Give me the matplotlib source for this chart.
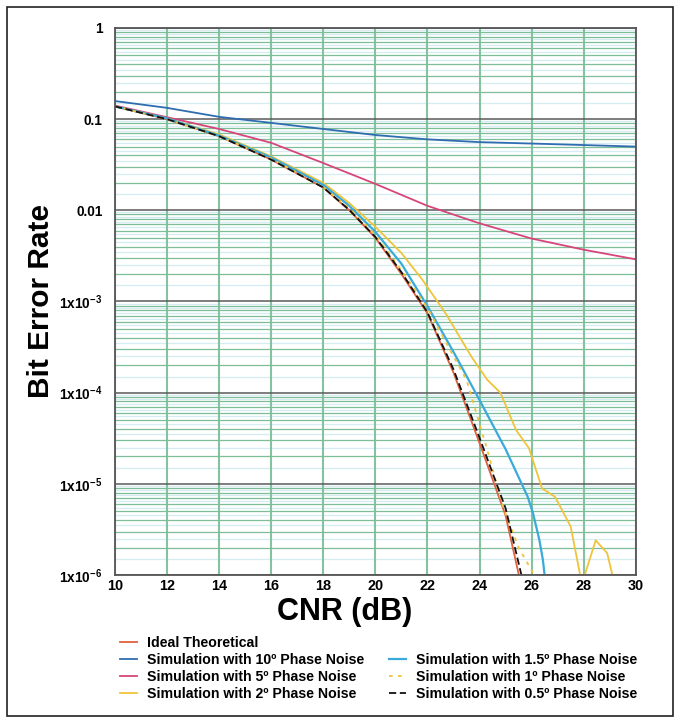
import numpy as np
import matplotlib
matplotlib.use("Agg")
import matplotlib.pyplot as plt
from matplotlib.lines import Line2D
from matplotlib.patches import Rectangle
from matplotlib.ticker import LogLocator, NullFormatter, FixedLocator

plt.rcParams['font.family'] = ['Liberation Sans', 'DejaVu Sans']
plt.rcParams['font.weight'] = 'bold'
plt.rcParams['mathtext.fontset'] = 'custom'
plt.rcParams['mathtext.rm'] = 'Liberation Sans:bold'
plt.rcParams['mathtext.it'] = 'Liberation Sans:bold'
plt.rcParams['mathtext.bf'] = 'Liberation Sans:bold'

# data (CNR in dB, BER)
ideal_x = [10, 12, 14, 16, 18, 19, 20, 21, 22, 23, 24, 25, 25.55]
ideal_y = [0.138, 0.1, 0.065, 0.036, 0.0178, 0.01, 0.005, 0.002, 7.4e-4, 1.66e-4, 2.8e-5, 4.5e-6, 8.9e-7]

pn10_x = [10, 12, 14, 16, 18, 20, 22, 24, 26, 28, 30]
pn10_y = [0.158, 0.133, 0.106, 0.091, 0.078, 0.067, 0.060, 0.056, 0.054, 0.052, 0.050]

pn5_x = [10, 12, 14, 16, 18, 20, 22, 24, 26, 28, 30]
pn5_y = [0.141, 0.105, 0.078, 0.055, 0.033, 0.0195, 0.0112, 0.0072, 0.0049, 0.0037, 0.0029]

pn2_x = [10, 12, 14, 16, 18, 19, 20, 21, 21.8, 22.7, 23.7, 24.3, 24.8, 25.4, 25.9,
         26.4, 26.9, 27.5, 27.85, 27.95, 28.04, 28.46, 28.9, 29.1, 29.2]
pn2_y = [0.138, 0.102, 0.068, 0.039, 0.020, 0.012, 0.0066, 0.0034, 0.00174, 7.4e-4,
         2.45e-4, 1.38e-4, 1.0e-4, 3.9e-5, 2.45e-5, 8.9e-6, 7.2e-6, 3.4e-6, 1.05e-6,
         5e-7, 1.0e-6, 2.4e-6, 1.74e-6, 1.0e-6, 5e-7]

pn15_x = [10, 12, 14, 16, 18, 19, 20, 21, 22, 23, 24, 25, 25.85, 26.05, 26.3, 26.43, 26.52]
pn15_y = [0.138, 0.102, 0.066, 0.038, 0.019, 0.0112, 0.0058, 0.0026, 8.9e-4, 2.8e-4,
          8.3e-5, 2.4e-5, 7.2e-6, 4.8e-6, 2.4e-6, 1.48e-6, 8.9e-7]

pn1_x = [10, 12, 14, 16, 18, 19, 20, 21, 22, 23, 23.5, 24.27, 24.9, 25.5, 26.2]
pn1_y = [0.138, 0.1, 0.065, 0.037, 0.018, 0.0105, 0.0054, 0.0022, 8.5e-4, 2.5e-4,
         1.38e-4, 2.5e-5, 5.6e-6, 2.0e-6, 8.9e-7]

pn05_x = [10, 12, 14, 16, 18, 19, 20, 21, 22, 23, 24, 25, 25.65]
pn05_y = [0.138, 0.1, 0.065, 0.036, 0.0178, 0.0101, 0.0051, 0.0021, 7.6e-4, 1.8e-4, 3.2e-5, 5.4e-6, 8.9e-7]

x_ticks = [10, 12, 14, 16, 18, 20, 22, 24, 26, 28, 30]
y_ticks = [1, 0.1, 0.01, 1e-3, 1e-4, 1e-5, 1e-6]
y_labels = ['1', '0.1', '0.01', '1x10$^{-3}$', '1x10$^{-4}$', '1x10$^{-5}$', '1x10$^{-6}$']

fig = plt.figure(figsize=(6.8, 7.23), dpi=100)
ax = fig.add_axes([0.169, 0.2047, 0.766, 0.7566])
ax.set_yscale('log')
ax.set_xlim(10, 30)
ax.set_ylim(1e-6, 1)

# grid
for dec in [1e-6, 1e-5, 1e-4, 1e-3, 1e-2, 1e-1]:
    for s in [1.5, 2.5, 3.5, 4.5, 5.5, 6.5, 7.5, 8.5, 9.5]:
        ax.axhline(dec * s, color='#d6ecf3', lw=0.9, zorder=0)
ax.yaxis.set_minor_locator(LogLocator(base=10, subs=range(2, 10), numticks=20))
ax.yaxis.set_minor_formatter(NullFormatter())
ax.grid(which='minor', axis='y', color='#7dbd97', lw=0.9, zorder=1)
ax.grid(which='major', axis='y', color='#5a5a5a', lw=1.1, zorder=1)
ax.xaxis.set_major_locator(FixedLocator(x_ticks))
ax.grid(which='major', axis='x', color='#85c3a0', lw=1.5, zorder=1)
ax.set_axisbelow(True)

ax.plot(ideal_x, ideal_y, color='#e0603f', lw=1.3, label='Ideal Theoretical')
ax.plot(pn10_x, pn10_y, color='#2f6db0', lw=1.3, label='Simulation with 10º Phase Noise')
ax.plot(pn5_x, pn5_y, color='#d8457a', lw=1.3, label='Simulation with 5º Phase Noise')
ax.plot(pn2_x, pn2_y, color='#f0c43a', lw=1.3, label='Simulation with 2º Phase Noise')
ax.plot(pn15_x, pn15_y, color='#3aaad8', lw=1.6, label='Simulation with 1.5º Phase Noise')
ax.plot(pn1_x, pn1_y, color='#f0c43a', lw=1.3, ls=(0, (2, 3)), label='Simulation with 1º Phase Noise')
ax.plot(pn05_x, pn05_y, color='#111111', lw=1.3, ls=(0, (4, 2)), label='Simulation with 0.5º Phase Noise')

ax.set_yticks(y_ticks)
ax.set_yticklabels(y_labels)
ax.set_xticks(x_ticks)
ax.tick_params(axis='both', which='both', length=0)
ax.tick_params(axis='y', labelsize=9.8, pad=9)
ax.tick_params(axis='x', labelsize=10.4, pad=3)
for lab in ax.get_xticklabels() + ax.get_yticklabels():
    lab.set_fontweight('bold')
for sp in ax.spines.values():
    sp.set_color('#555555')
    sp.set_linewidth(1.3)

ax.set_xlabel('CNR (dB)', fontsize=22, fontweight='bold', labelpad=0)
ax.xaxis.set_label_coords(0.441, -0.067, transform=ax.transAxes)
ax.xaxis.label.set_va('center')
ax.set_ylabel('Bit Error Rate', fontsize=21.5, fontweight='bold')
ax.yaxis.set_label_coords(-0.115, 0.5)

h, l = ax.get_legend_handles_labels()
blank = Line2D([], [], color='none')
handles = [h[0], h[1], h[2], h[3], blank, h[4], h[5], h[6]]
labels = [l[0], l[1], l[2], l[3], '', l[4], l[5], l[6]]
fig.legend(handles, labels, ncol=2, loc='upper left', bbox_to_anchor=(0.176, 0.120),
           frameon=False, prop={'weight': 'bold', 'size': 10.2},
           handlelength=1.25, handletextpad=0.65, columnspacing=1.75, labelspacing=0.2,
           borderpad=0, borderaxespad=0)

fig.add_artist(Rectangle((0.011, 0.009), 0.979, 0.981, transform=fig.transFigure,
                         fill=False, edgecolor='#222222', lw=1.2))

fig.savefig('out.png', dpi=100)
